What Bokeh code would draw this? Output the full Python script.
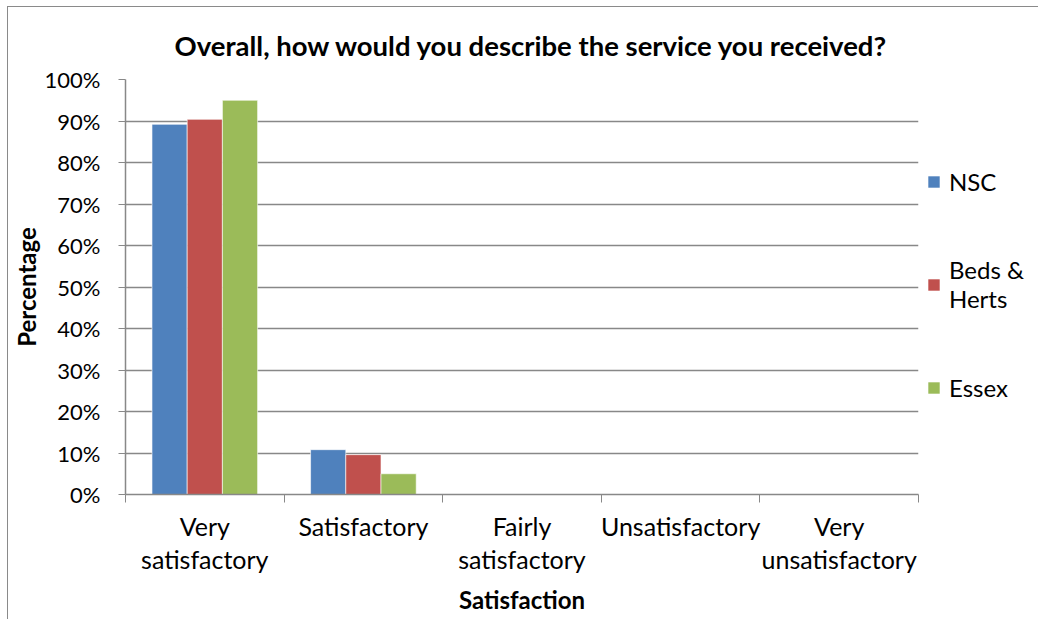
from bokeh.plotting import figure
from bokeh.models import (Range1d, FixedTicker, NumeralTickFormatter, Legend, LegendItem,
                          ColumnDataSource)
from bokeh.embed import file_html
from bokeh.resources import INLINE
import numpy as np

categories = ["Very satisfactory", "Satisfactory", "Fairly satisfactory",
              "Unsatisfactory", "Very unsatisfactory"]
category_labels = ["Very\nsatisfactory", "Satisfactory", "Fairly\nsatisfactory",
                   "Unsatisfactory", "Very\nunsatisfactory"]
series_names = ["NSC", "Beds &\nHerts", "Essex"]
nsc = [0.892, 0.108, 0.0, 0.0, 0.0]
beds_herts = [0.904, 0.096, 0.0, 0.0, 0.0]
essex = [0.95, 0.05, 0.0, 0.0, 0.0]
y_ticks = [0.0, 0.1, 0.2, 0.3, 0.4, 0.5, 0.6, 0.7, 0.8, 0.9, 1.0]

colors = ["#4F81BD", "#C0504D", "#9BBB59"]
FONT = "Lato"
GRID = "#888888"
OX, OY = 8, 7  # offset of the canvas inside the page (chart border)

centers = np.arange(len(categories)) + 0.5

p = figure(width=1038 - OX, height=619 - OY, output_backend="svg", toolbar_location=None,
           x_range=Range1d(0, len(categories)), y_range=Range1d(0, 1),
           frame_width=793, frame_height=415,
           min_border_left=124 - OX, min_border_right=1038 - 917, min_border_top=79 - OY,
           min_border_bottom=619 - 494,
           title="Overall, how would you describe the service you received?")
p.margin = (OY - 1, 0, 0, OX - 1)
p.styles = {"border-left": "1px solid #8a8a8a", "border-top": "1px solid #8a8a8a"}

p.title.align = "left"
p.title.text_font = FONT
p.title.text_font_size = "27.5px"
p.title.text_font_style = "bold"
p.title.text_color = "black"
p.title.standoff = 36
p.title.offset = 49

bar_w = 0.222
renderers = []
for k, vals in enumerate([nsc, beds_herts, essex]):
    src = ColumnDataSource(dict(x=centers + (k - 1) * bar_w, top=vals))
    r = p.vbar(x="x", top="top", width=bar_w, bottom=0, source=src,
               fill_color=colors[k], line_color="white", line_width=1, line_alpha=0.6)
    renderers.append(r)

# axes
p.xaxis.ticker = FixedTicker(ticks=list(centers), minor_ticks=list(range(len(categories) + 1)))
p.xaxis.major_label_overrides = {float(c): lab for c, lab in zip(centers, category_labels)}
p.xaxis.major_tick_line_color = None
p.xaxis.minor_tick_in = 0
p.xaxis.minor_tick_out = 8
p.xaxis.minor_tick_line_color = GRID
p.xaxis.axis_line_color = GRID
p.xaxis.axis_line_width = 1.5
p.xaxis.major_label_standoff = 8
p.xaxis.major_label_text_font = FONT
p.xaxis.major_label_text_font_size = "25px"
p.xaxis.major_label_text_color = "black"
p.xaxis.major_label_text_line_height = 1.1
p.xaxis.axis_label = "Satisfaction"
p.xaxis.axis_label_text_font = FONT
p.xaxis.axis_label_text_font_size = "24px"
p.xaxis.axis_label_text_font_style = "bold"
p.xaxis.axis_label_text_color = "black"
p.xaxis.axis_label_standoff = 8

p.yaxis.ticker = FixedTicker(ticks=y_ticks)
p.yaxis.formatter = NumeralTickFormatter(format="0%")
p.yaxis.major_tick_in = 0
p.yaxis.major_tick_out = 7
p.yaxis.major_tick_line_color = GRID
p.yaxis.minor_tick_line_color = None
p.yaxis.axis_line_color = GRID
p.yaxis.axis_line_width = 1.5
p.yaxis.major_label_standoff = 18
p.yaxis.major_label_text_font = FONT
p.yaxis.major_label_text_font_size = "22px"
p.yaxis.major_label_text_color = "black"
p.yaxis.axis_label = "Percentage"
p.yaxis.axis_label_text_font = FONT
p.yaxis.axis_label_text_font_size = "24px"
p.yaxis.axis_label_text_font_style = "bold"
p.yaxis.axis_label_text_color = "black"
p.yaxis.axis_label_standoff = 1

p.xgrid.grid_line_color = None
p.ygrid.grid_line_color = GRID
p.ygrid.grid_line_width = 1.5
p.outline_line_color = None

legend = Legend(items=[LegendItem(label=series_names[k], renderers=[renderers[k]]) for k in range(3)],
                location=(8, 74), label_text_font=FONT, label_text_font_size="24px",
                label_text_color="black",
                label_text_line_height=1.15,
                label_height=66, glyph_width=15, glyph_height=15, label_standoff=8, spacing=37,
                border_line_color=None, background_fill_alpha=0, padding=0, margin=0)
p.add_layout(legend, "right")

open("out.html", "w").write(file_html(p, INLINE))
